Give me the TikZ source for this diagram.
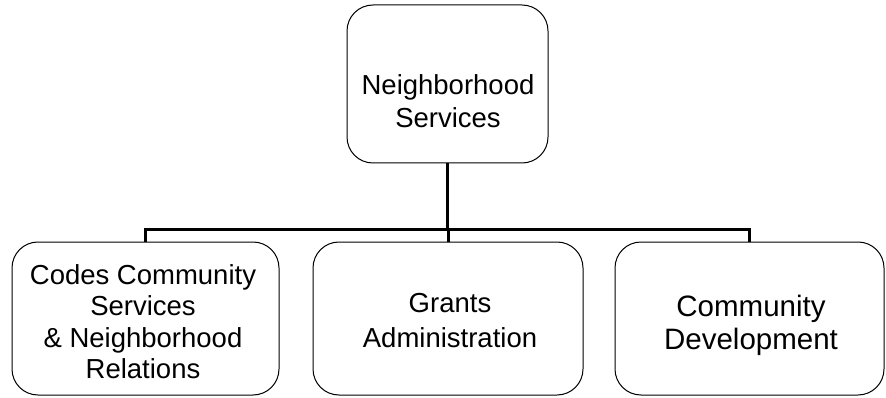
\documentclass[tikz,border=0pt]{standalone}
\usepackage{fontspec}
\setmainfont{Liberation Sans}
\begin{document}
\begin{tikzpicture}[x=1pt,y=-1pt,
  box/.style={draw=black,line width=1pt,rounded corners=26pt,minimum height=153pt,inner sep=0pt},
  lbl/.style={align=center,inner sep=0pt,font=\fontsize{27.5}{33}\selectfont},
  conn/.style={draw=black,line width=3pt}]
\useasboundingbox (0,0) rectangle (886,398);
\node[box,minimum width=201pt,minimum height=158pt] (top) at (447.5,84) {};
\node[box,minimum width=267pt] (left) at (145.5,318.5) {};
\node[box,minimum width=270pt] (mid) at (448,318.5) {};
\node[box,minimum width=269pt] (right) at (749.5,318.5) {};
\coordinate (bus) at (448,230);
\draw[conn] (top.south) -- (top.south |- bus);
\draw[conn] (left.north) -- (left.north |- bus) -- (right.north |- bus) -- (right.north);
\draw[conn] (mid.north |- bus) -- (mid.north);
\node[lbl] (toplbl) at (448,101) {Neighborhood\\Services};
\node[lbl,font=\fontsize{27.5}{31.5}\selectfont] (leftlbl) at (143,321.5) {Codes Community\\Services\\\& Neighborhood\\Relations};
\node[lbl,font=\fontsize{27.5}{35}\selectfont] (midlbl) at (450,321) {Grants\\Administration};
\node[lbl,font=\fontsize{29.5}{33}\selectfont] (rightlbl) at (751,325) {Community\\Development};
\end{tikzpicture}
\end{document}
